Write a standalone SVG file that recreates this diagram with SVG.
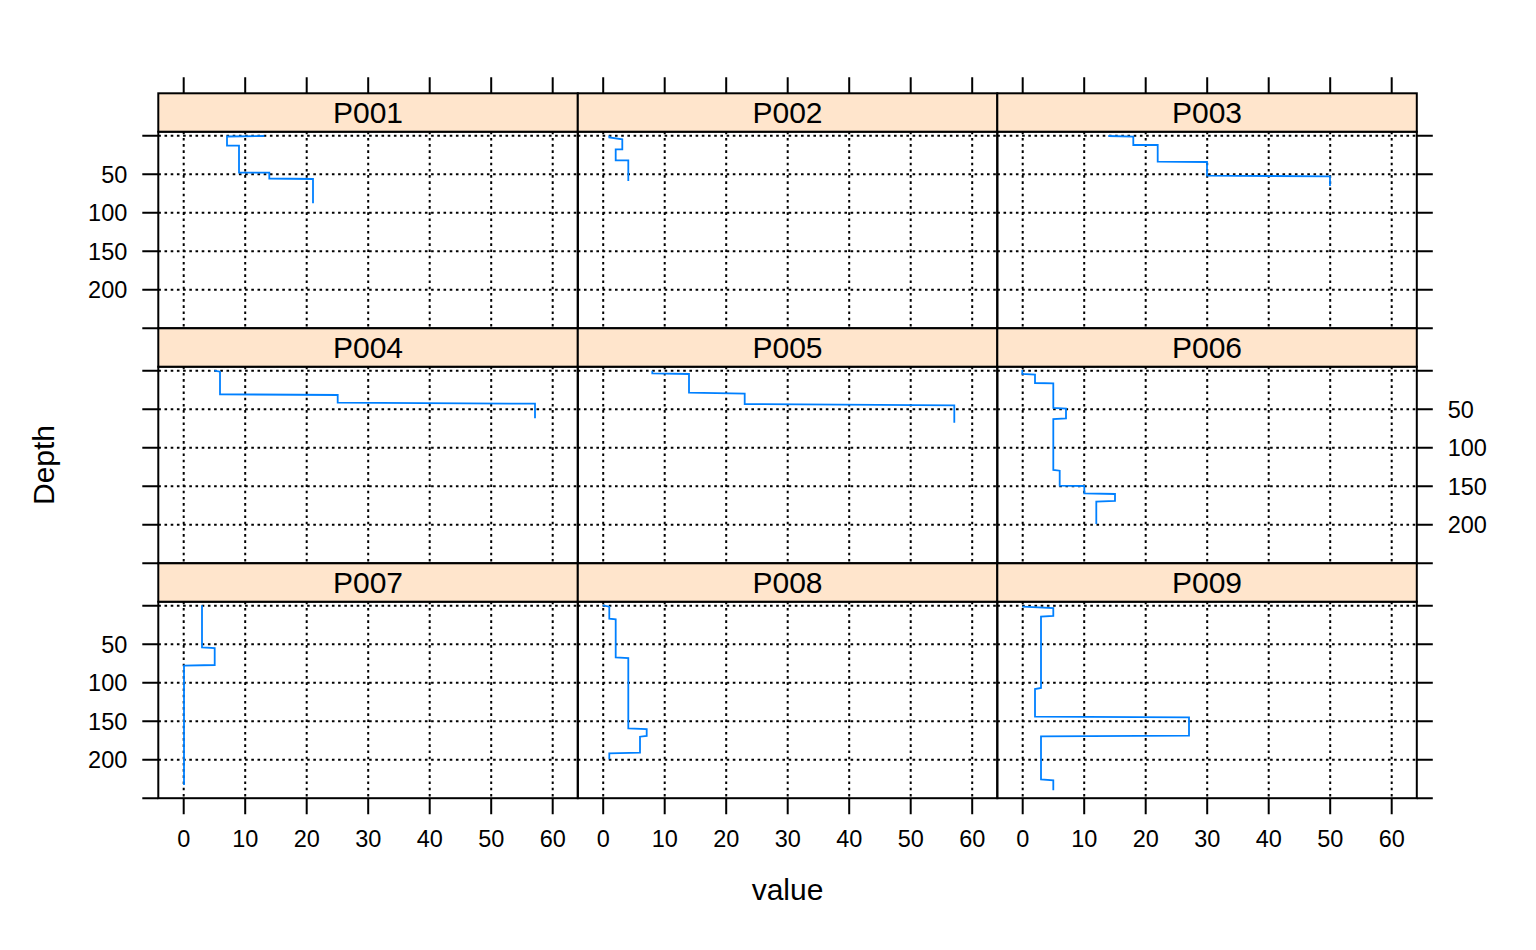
<svg xmlns="http://www.w3.org/2000/svg" xmlns:xlink="http://www.w3.org/1999/xlink" width="1536" height="950" viewBox="0 0 1536 950">
<style>
.bg{fill:#ffffff}
.frame{fill:none;stroke:#000;stroke-width:2}
.strip{fill:#ffe5cc;stroke:#000;stroke-width:2}
.grid{fill:none;stroke:#000;stroke-width:2;stroke-dasharray:2.6 3.6}
.tick{fill:none;stroke:#000;stroke-width:2}
.data{fill:none;stroke:#0080ff;stroke-width:1.8;stroke-linejoin:miter}
.st{font-family:"Liberation Sans",Arial,sans-serif;font-size:30px;fill:#000;text-anchor:middle}
.ax{font-family:"Liberation Sans",Arial,sans-serif;font-size:23.5px;fill:#000}
.title{font-family:"Liberation Sans",Arial,sans-serif;font-size:30px;fill:#000;text-anchor:middle}
</style>
<defs>
<g id="gridlines">
<path class="grid" d="M25.4 0V196.5M86.9 0V196.5M148.4 0V196.5M209.9 0V196.5M271.4 0V196.5M332.9 0V196.5M394.4 0V196.5M0 4H419.5M0 42.5H419.5M0 81H419.5M0 119.5H419.5M0 158H419.5"/>
</g>
</defs>
<rect class="bg" x="0" y="0" width="1536" height="950"/>

<g id="panel-P001">
<use xlink:href="#gridlines" x="158.3" y="131.7"/>
<rect class="frame" x="158.3" y="131.7" width="419.5" height="196.5"/>
<rect class="strip" x="158.3" y="93.3" width="419.5" height="38.4"/>
<text class="st" x="368" y="123.3">P001</text>
<polyline class="data" points="264.3,136 227,136.5 227,145.7 239,145.7 239,172.5 269.3,172.7 269.3,178.5 313,179 313,203.3"/>
</g>
<g id="panel-P002">
<use xlink:href="#gridlines" x="577.8" y="131.7"/>
<rect class="frame" x="577.8" y="131.7" width="419.5" height="196.5"/>
<rect class="strip" x="577.8" y="93.3" width="419.5" height="38.4"/>
<text class="st" x="787.5" y="123.3">P002</text>
<polyline class="data" points="609.3,135.5 609.3,137.5 622.3,139.3 622.3,149.3 615.7,149.3 615.7,160.3 628.3,160.3 628.3,181"/>
</g>
<g id="panel-P003">
<use xlink:href="#gridlines" x="997.3" y="131.7"/>
<rect class="frame" x="997.3" y="131.7" width="419.5" height="196.5"/>
<rect class="strip" x="997.3" y="93.3" width="419.5" height="38.4"/>
<text class="st" x="1207" y="123.3">P003</text>
<polyline class="data" points="1108.3,136 1133.3,136.7 1133.3,145 1157.7,145 1157.7,161.7 1207,162 1207,175.7 1330,176.3 1330,186"/>
</g>
<g id="panel-P004">
<use xlink:href="#gridlines" x="158.3" y="366.7"/>
<rect class="frame" x="158.3" y="366.7" width="419.5" height="196.5"/>
<rect class="strip" x="158.3" y="328.3" width="419.5" height="38.4"/>
<text class="st" x="368" y="358.3">P004</text>
<polyline class="data" points="214.3,370.7 220,371.7 220,394.3 337.7,395 337.7,402.7 535,403.7 535,418.3"/>
</g>
<g id="panel-P005">
<use xlink:href="#gridlines" x="577.8" y="366.7"/>
<rect class="frame" x="577.8" y="366.7" width="419.5" height="196.5"/>
<rect class="strip" x="577.8" y="328.3" width="419.5" height="38.4"/>
<text class="st" x="787.5" y="358.3">P005</text>
<polyline class="data" points="652.3,370.7 652.3,373.3 689,374 689,392.7 744.7,393.7 744.7,404 954.3,405.3 954.3,422.7"/>
</g>
<g id="panel-P006">
<use xlink:href="#gridlines" x="997.3" y="366.7"/>
<rect class="frame" x="997.3" y="366.7" width="419.5" height="196.5"/>
<rect class="strip" x="997.3" y="328.3" width="419.5" height="38.4"/>
<text class="st" x="1207" y="358.3">P006</text>
<polyline class="data" points="1022.3,370 1022.3,374 1035,374.7 1035,383 1053.3,383.3 1053.3,408 1066,408.7 1066,418.3 1053.3,419 1053.3,470 1059.7,470.7 1059.7,485.7 1084.3,486 1084.3,493.3 1115,494 1115,501 1096.3,501.7 1096.3,524"/>
</g>
<g id="panel-P007">
<use xlink:href="#gridlines" x="158.3" y="601.7"/>
<rect class="frame" x="158.3" y="601.7" width="419.5" height="196.5"/>
<rect class="strip" x="158.3" y="563.3" width="419.5" height="38.4"/>
<text class="st" x="368" y="593.3">P007</text>
<polyline class="data" points="202,605.3 202,647.3 214.7,648 214.7,665 184,665.7 184,785"/>
</g>
<g id="panel-P008">
<use xlink:href="#gridlines" x="577.8" y="601.7"/>
<rect class="frame" x="577.8" y="601.7" width="419.5" height="196.5"/>
<rect class="strip" x="577.8" y="563.3" width="419.5" height="38.4"/>
<text class="st" x="787.5" y="593.3">P008</text>
<polyline class="data" points="602.7,605.3 609.3,606.7 609.3,618.7 615.7,619.3 615.7,657.3 628.3,658 628.3,728.3 646.7,729 646.7,736 640,736.7 640,752.7 609.3,753.3 609.3,759.3"/>
</g>
<g id="panel-P009">
<use xlink:href="#gridlines" x="997.3" y="601.7"/>
<rect class="frame" x="997.3" y="601.7" width="419.5" height="196.5"/>
<rect class="strip" x="997.3" y="563.3" width="419.5" height="38.4"/>
<text class="st" x="1207" y="593.3">P009</text>
<polyline class="data" points="1022.3,606.7 1053.3,608 1053.3,616 1041,616.7 1041,688 1035,689 1035,716.7 1189,717.3 1189,735.7 1041,736.3 1041,779.3 1053.3,780.3 1053.3,790.3"/>
</g>

<g id="axes">
<path class="tick" d="M183.7 77.3V93.3M245.2 77.3V93.3M306.7 77.3V93.3M368.2 77.3V93.3M429.7 77.3V93.3M491.2 77.3V93.3M552.7 77.3V93.3M603.2 77.3V93.3M664.7 77.3V93.3M726.2 77.3V93.3M787.7 77.3V93.3M849.2 77.3V93.3M910.7 77.3V93.3M972.2 77.3V93.3M1022.7 77.3V93.3M1084.2 77.3V93.3M1145.7 77.3V93.3M1207.2 77.3V93.3M1268.7 77.3V93.3M1330.2 77.3V93.3M1391.7 77.3V93.3"/>
<path class="tick" d="M183.7 798.2V814.2M245.2 798.2V814.2M306.7 798.2V814.2M368.2 798.2V814.2M429.7 798.2V814.2M491.2 798.2V814.2M552.7 798.2V814.2M603.2 798.2V814.2M664.7 798.2V814.2M726.2 798.2V814.2M787.7 798.2V814.2M849.2 798.2V814.2M910.7 798.2V814.2M972.2 798.2V814.2M1022.7 798.2V814.2M1084.2 798.2V814.2M1145.7 798.2V814.2M1207.2 798.2V814.2M1268.7 798.2V814.2M1330.2 798.2V814.2M1391.7 798.2V814.2"/>
<path class="tick" d="M142.3 135.7H158.3M142.3 174.2H158.3M142.3 212.7H158.3M142.3 251.2H158.3M142.3 289.7H158.3M142.3 328.2H158.3M142.3 370.7H158.3M142.3 409.2H158.3M142.3 447.7H158.3M142.3 486.2H158.3M142.3 524.7H158.3M142.3 563.2H158.3M142.3 605.7H158.3M142.3 644.2H158.3M142.3 682.7H158.3M142.3 721.2H158.3M142.3 759.7H158.3M142.3 798.2H158.3"/>
<path class="tick" d="M1416.8 135.7H1432.8M1416.8 174.2H1432.8M1416.8 212.7H1432.8M1416.8 251.2H1432.8M1416.8 289.7H1432.8M1416.8 328.2H1432.8M1416.8 370.7H1432.8M1416.8 409.2H1432.8M1416.8 447.7H1432.8M1416.8 486.2H1432.8M1416.8 524.7H1432.8M1416.8 563.2H1432.8M1416.8 605.7H1432.8M1416.8 644.2H1432.8M1416.8 682.7H1432.8M1416.8 721.2H1432.8M1416.8 759.7H1432.8M1416.8 798.2H1432.8"/>
<g class="ax" text-anchor="end">
<text x="127.3" y="182.6">50</text>
<text x="127.3" y="221.1">100</text>
<text x="127.3" y="259.6">150</text>
<text x="127.3" y="298.1">200</text>
<text x="127.3" y="652.6">50</text>
<text x="127.3" y="691.1">100</text>
<text x="127.3" y="729.6">150</text>
<text x="127.3" y="768.1">200</text>
</g>
<g class="ax" text-anchor="start">
<text x="1447.7" y="417.6">50</text>
<text x="1447.7" y="456.1">100</text>
<text x="1447.7" y="494.6">150</text>
<text x="1447.7" y="533.1">200</text>
</g>
<g class="ax" text-anchor="middle">
<text x="183.7" y="846.7">0</text>
<text x="245.2" y="846.7">10</text>
<text x="306.7" y="846.7">20</text>
<text x="368.2" y="846.7">30</text>
<text x="429.7" y="846.7">40</text>
<text x="491.2" y="846.7">50</text>
<text x="552.7" y="846.7">60</text>
<text x="603.2" y="846.7">0</text>
<text x="664.7" y="846.7">10</text>
<text x="726.2" y="846.7">20</text>
<text x="787.7" y="846.7">30</text>
<text x="849.2" y="846.7">40</text>
<text x="910.7" y="846.7">50</text>
<text x="972.2" y="846.7">60</text>
<text x="1022.7" y="846.7">0</text>
<text x="1084.2" y="846.7">10</text>
<text x="1145.7" y="846.7">20</text>
<text x="1207.2" y="846.7">30</text>
<text x="1268.7" y="846.7">40</text>
<text x="1330.2" y="846.7">50</text>
<text x="1391.7" y="846.7">60</text>
</g>
<text class="title" x="787.5" y="900">value</text>
<text class="title" transform="translate(54,465) rotate(-90)" x="0" y="0">Depth</text>
</g>
</svg>
